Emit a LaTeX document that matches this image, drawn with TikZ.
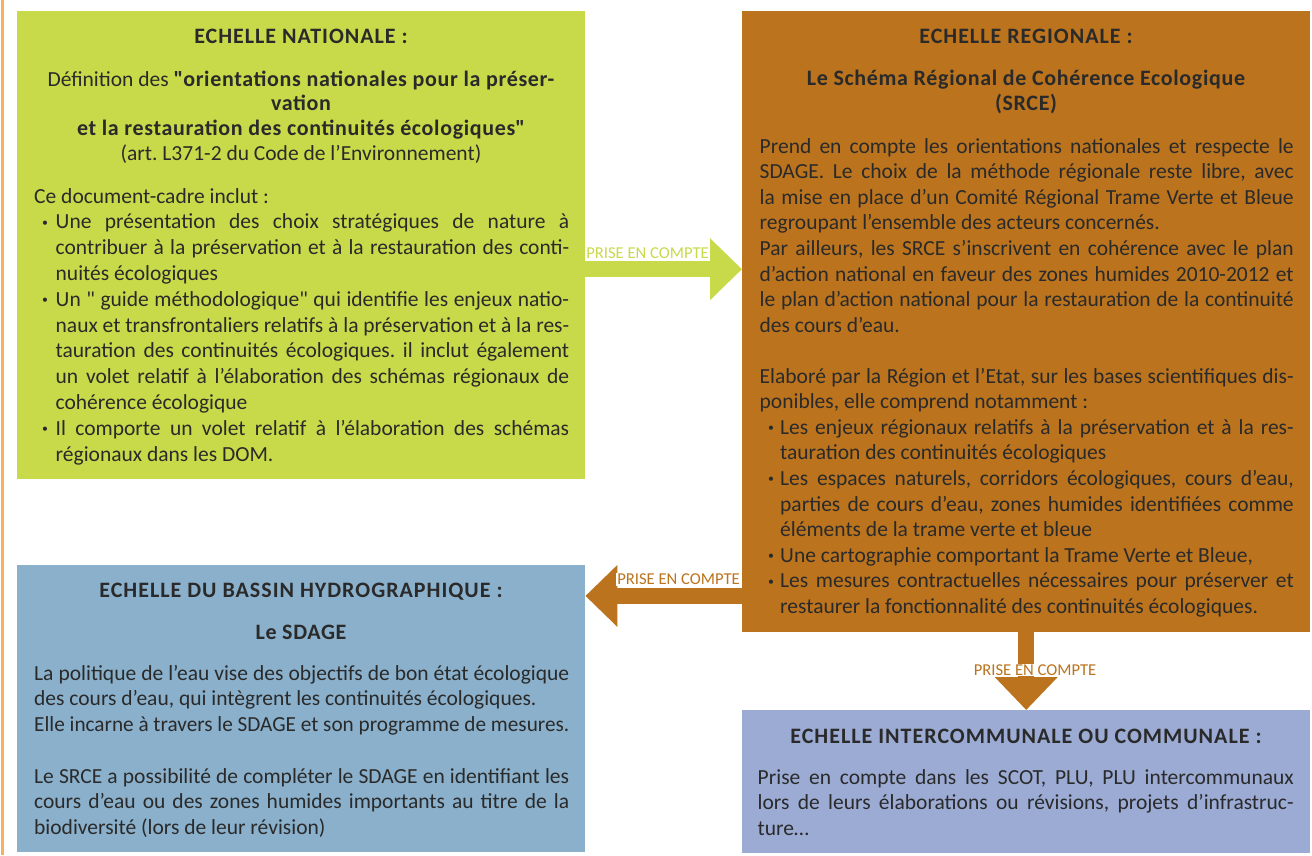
\documentclass[tikz,border=0pt]{standalone}
\usepackage{fontspec}
\setmainfont{Carlito}
\newfontfamily\ttlfont[LetterSpace=4.5]{Carlito}
\newfontfamily\subfont[LetterSpace=3]{Carlito}
\usepackage{graphicx}
\usetikzlibrary{arrows.meta}
\definecolor{cgreen}{RGB}{200,218,74}
\definecolor{corange}{RGB}{187,115,30}
\definecolor{cblue}{RGB}{138,176,203}
\definecolor{cpurple}{RGB}{155,171,212}
\definecolor{ctext}{RGB}{42,42,42}
\definecolor{cline}{RGB}{250,176,90}
\frenchspacing
\newlength\myind
\newlength\mybof
\newsavebox\mylinebox
\newcommand\fitJ[2]{\sbox\mylinebox{#2}%
  \ifdim\wd\mylinebox>#1\relax\resizebox{#1}{\height}{\usebox\mylinebox}%
  \else\makebox[#1][s]{#2}\fi}
\newcommand\mybul{\raisebox{2.8pt}{\scalebox{0.55}{•}}}
\newcommand\lnJ[1]{\noindent\fitJ{\linewidth}{#1}\par}
\newcommand\lnL[1]{\noindent #1\par}
\newcommand\itJ[1]{\noindent\makebox[\myind][l]{\hspace{\mybof}\mybul}\fitJ{\dimexpr\linewidth-\myind\relax}{#1}\par}
\newcommand\itL[1]{\noindent\makebox[\myind][l]{\hspace{\mybof}\mybul}#1\par}
\newcommand\ctJ[1]{\noindent\hspace*{\myind}\fitJ{\dimexpr\linewidth-\myind\relax}{#1}\par}
\newcommand\ctL[1]{\noindent\hspace*{\myind}#1\par}
\newcommand\qd{\textquotedbl}
\tikzset{
  box/.style={draw=none, inner sep=0pt, anchor=north west},
  ttl/.style={inner sep=0pt, anchor=base, text=ctext, font=\fontsize{22}{26}\ttlfont\bfseries},
  bodytxt/.style={inner sep=0pt, anchor=base west, text=ctext, font=\fontsize{21.5}{25.6}\selectfont},
  subtxt/.style={inner sep=0pt, anchor=base, text=ctext, font=\fontsize{21.5}{24.7}\selectfont},
  subbf/.style={inner sep=0pt, anchor=base, text=ctext, font=\fontsize{22}{25}\subfont\bfseries},
  lab/.style={fill=white, inner xsep=1.5pt, inner ysep=1pt, font=\fontsize{16.6}{18}\selectfont},
  flow/.style={line width=16pt},
}
\begin{document}
\begin{tikzpicture}[x=1pt,y=-1pt]
\useasboundingbox (0,0) rectangle (1312,855);
\fill[white] (0,0) rectangle (1312,855);
\draw[cline, line width=2.5pt] (2.5,0) -- (2.5,855);
% boxes
\node[box, fill=cgreen, minimum width=568pt, minimum height=468pt] (nat) at (17,11) {};
\node[box, fill=corange, minimum width=568pt, minimum height=621pt] (reg) at (742,11) {};
\node[box, fill=cblue, minimum width=568pt, minimum height=287pt] (bas) at (17,565) {};
\node[box, fill=cpurple, minimum width=568pt, minimum height=143pt] (com) at (742,710) {};
% connectors
\path ([yshift=-24pt]nat.east) coordinate (g1);
\draw[flow, cgreen, -{Triangle[width=60pt,length=32pt]}] (g1) -- (g1 -| reg.west);
\path (reg.south west) ++(0,-36.5) coordinate (o1);
\draw[flow, corange, -{Triangle[width=60pt,length=32pt]}] (o1) -- (o1 -| bas.east);
\draw[flow, corange, -{Triangle[width=61pt,length=33pt]}] (reg.south) -- (com.north);
\node[lab, text=cgreen] (l1) at (647.5,253) {PRISE EN COMPTE};
\node[lab, text=corange] (l2) at (678.5,579.5) {PRISE EN COMPTE};
\node[lab, text=corange] (l3) at (1035,670) {PRISE EN COMPTE};
% national
\node[ttl] (nt) at (301,43) {ECHELLE NATIONALE :};
\node[subtxt] (ns) at (301,86) {\parbox[t]{560pt}{\centering
Définition des {\fontsize{22}{24.7}\subfont\bfseries \qd orientations nationales pour la préser-}\\
{\fontsize{22}{24.7}\subfont\bfseries vation}\\
{\fontsize{22}{24.7}\subfont\bfseries et la restauration des continuités écologiques\qd}\\
(art. L371-2 du Code de l’Environnement)}};
\node[bodytxt, font=\fontsize{21.5}{25.8}\selectfont] (nb) at (34,203) {\parbox[t]{535pt}{\setlength\myind{21.5pt}\setlength\mybof{8pt}%
\lnL{Ce document-cadre inclut :}
\itJ{Une présentation des choix stratégiques de nature à}
\ctJ{contribuer à la préservation et à la restauration des conti-}
\ctL{nuités écologiques}
\itJ{Un \qd{} guide méthodologique\qd{} qui identifie les enjeux natio-}
\ctJ{naux et transfrontaliers relatifs à la préservation et à la res-}
\ctJ{tauration des continuités écologiques. il inclut également}
\ctJ{un volet relatif à l’élaboration des schémas régionaux de}
\ctL{cohérence écologique}
\itJ{Il comporte un volet relatif à l’élaboration des schémas}
\ctL{régionaux dans les DOM.}}};
% regional
\node[ttl] (rt) at (1026,43) {ECHELLE REGIONALE :};
\node[subbf] (rs) at (1026,85) {\parbox[t]{560pt}{\centering
Le Schéma Régional de Cohérence Ecologique\\(SRCE)}};
\node[bodytxt] (rb1) at (759.5,153) {\parbox[t]{534pt}{%
\lnJ{Prend en compte les orientations nationales et respecte le}
\lnJ{SDAGE. Le choix de la méthode régionale reste libre, avec}
\lnJ{la mise en place d’un Comité Régional Trame Verte et Bleue}
\lnL{regroupant l’ensemble des acteurs concernés.}
\lnJ{Par ailleurs, les SRCE s’inscrivent en cohérence avec le plan}
\lnJ{d’action national en faveur des zones humides 2010-2012 et}
\lnJ{le plan d’action national pour la restauration de la continuité}
\lnL{des cours d’eau.}}};
\node[bodytxt] (rb2) at (759.5,383) {\parbox[t]{534pt}{\setlength\myind{20.5pt}\setlength\mybof{8.5pt}%
\lnJ{Elaboré par la Région et l’Etat, sur les bases scientifiques dis-}
\lnL{ponibles, elle comprend notamment :}
\itJ{Les enjeux régionaux relatifs à la préservation et à la res-}
\ctL{tauration des continuités écologiques}
\itJ{Les espaces naturels, corridors écologiques, cours d’eau,}
\ctJ{parties de cours d’eau, zones humides identifiées comme}
\ctL{éléments de la trame verte et bleue}
\itL{Une cartographie comportant la Trame Verte et Bleue,}
\itJ{Les mesures contractuelles nécessaires pour préserver et}
\ctL{restaurer la fonctionnalité des continuités écologiques.}}};
% bassin
\node[ttl] (bt) at (301,597) {ECHELLE DU BASSIN HYDROGRAPHIQUE :};
\node[subbf] (bs) at (301,639) {Le SDAGE};
\node[bodytxt] (bb1) at (34,680) {\parbox[t]{535pt}{%
\lnJ{La politique de l’eau vise des objectifs de bon état écologique}
\lnL{des cours d’eau, qui intègrent les continuités écologiques.}
\lnJ{Elle incarne à travers le SDAGE et son programme de mesures.}}};
\node[bodytxt] (bb2) at (34,783) {\parbox[t]{535pt}{%
\lnJ{Le SRCE a possibilité de compléter le SDAGE en identifiant les}
\lnJ{cours d’eau ou des zones humides importants au titre de la}
\lnL{biodiversité (lors de leur révision)}}};
% communal
\node[ttl] (ct) at (1026,743) {ECHELLE INTERCOMMUNALE OU COMMUNALE :};
\node[bodytxt] (cb) at (757.5,784) {\parbox[t]{536pt}{%
\lnJ{Prise en compte dans les SCOT, PLU, PLU intercommunaux}
\lnJ{lors de leurs élaborations ou révisions, projets d’infrastruc-}
\lnL{ture…}}};
\end{tikzpicture}
\end{document}
